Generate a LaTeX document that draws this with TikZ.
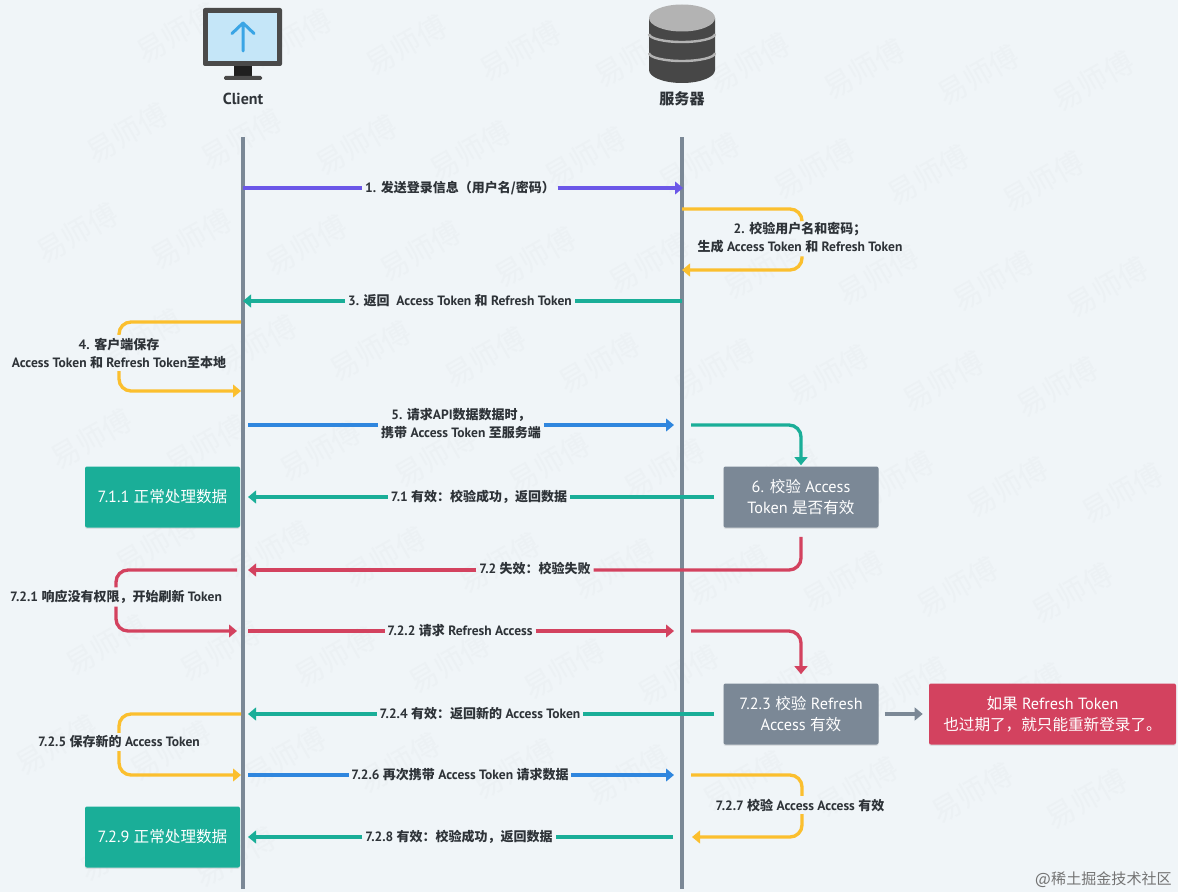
\documentclass[tikz,border=0pt]{standalone}
\usepackage{fontspec}
\usetikzlibrary{arrows.meta,shadows,calc}
\setmainfont{PT Sans}[Scale=1.04]
\newfontfamily\cjk{Noto Sans CJK SC}
\newcommand\zh[1]{{\cjk #1}}
\definecolor{bgc}{HTML}{F0F5F8}
\definecolor{wmc}{HTML}{ECF1F4}
\definecolor{pur}{HTML}{6B57E8}
\definecolor{gold}{HTML}{FBBF2E}
\definecolor{teal2}{HTML}{1AAE98}
\definecolor{blu}{HTML}{2F86DE}
\definecolor{rd}{HTML}{D3425F}
\definecolor{gry}{HTML}{7B8896}
\definecolor{txt}{HTML}{2E3338}
\definecolor{scr}{HTML}{C5E6F8}
\definecolor{arw}{HTML}{3AA5E5}
\definecolor{mon}{HTML}{4A4A4A}
\definecolor{stand}{HTML}{1F1F1F}
\definecolor{dbd}{HTML}{474747}
\definecolor{dbl}{HTML}{B3B3B3}
\tikzset{
  x=.75pt,y=-.75pt,
  conn/.style={line width=2.5pt,rounded corners=9pt},
  tip/.style={-{Triangle[length=6pt,width=9.5pt]}},
  lbl/.style={font=\fontsize{9.75}{13.5}\selectfont\bfseries,text=txt,align=center,inner xsep=2pt,inner ysep=2pt},
  box/.style={font=\fontsize{11.7}{15.5}\selectfont,text=white,align=center,rounded corners=1.5pt,minimum height=45.75pt,minimum width=116.25pt,inner sep=0pt,
     drop shadow={shadow xshift=0pt,shadow yshift=-1pt,opacity=.18}},
  wm/.style={font=\fontsize{22}{22}\selectfont\cjk,text=wmc,rotate=30,inner sep=0pt},
}
\begin{document}
\begin{tikzpicture}
\useasboundingbox (0,0) rectangle (1178,892);
\fill[bgc] (0,0) rectangle (1178,892);
% watermark
\foreach \i in {-3,...,11}{
 \foreach \j in {-1,...,9}{
  \pgfmathsetmacro\wx{177+\i*114.5-\j*50}
  \pgfmathsetmacro\wy{33+\i*6+\j*100}
  \pgfmathtruncatemacro\inside{(\wx>45)&&(\wx<1133)&&(\wy>30)&&(\wy<862)?1:0}
  \ifnum\inside=1
   \node[wm] (wm\i x\j) at (\wx,\wy) {易师傅};
  \fi
 }
}
% lifelines
\coordinate (t1) at (243,137); \coordinate (b1) at (243,889);
\coordinate (t2) at (682,137); \coordinate (b2) at (682,889);
\draw[gry,line width=2.5pt] (t1)--(b1);
\draw[gry,line width=2.5pt] (t2)--(b2);
% client icon
\fill[mon,rounded corners=1.5pt] (203,8) rectangle (282,66);
\fill[stand] (234,66) rectangle (252,76);
\fill[mon,rounded corners=1pt] (224,76) rectangle (262,80);
\fill[scr] (208,13) rectangle (277,61);
\draw[line width=2.25pt,arw,line cap=round,line join=round] (243,51)--(243,23) (232,33.5)--(243,23)--(254,33.5);
% db icon
\fill[dbd] (649,18) -- (649,70) arc[start angle=180,end angle=360,x radius=33,y radius=-13] -- (715,18) -- cycle;
\fill[dbl] (682,18) ellipse[x radius=33,y radius=13.5];
\draw[dbl,line width=1.8pt] (649,34) arc[start angle=180,end angle=360,x radius=33,y radius=-8];
\draw[dbl,line width=1.8pt] (649,53) arc[start angle=180,end angle=360,x radius=33,y radius=-8];
% heads
\node[lbl,font=\fontsize{11.5}{14}\selectfont\bfseries] (client) at (243,99) {Client};
\node[lbl,font=\fontsize{11.3}{14}\selectfont\bfseries] (srv) at (682,99) {\zh{服务器}};
% boxes
\node[box,fill=gry] (b6) at (801,497) {6. \zh{校验} Access\\Token \zh{是否有效}};
\node[box,fill=teal2] (b711) at (162.5,497) {7.1.1 \zh{正常处理数据}};
\node[box,fill=gry] (b723) at (801,714) {7.2.3 \zh{校验} Refresh\\Access \zh{有效}};
\node[box,fill=rd,minimum width=185.25pt] (bred) at (1052.5,714) {\zh{如果} Refresh Token\\\zh{也过期了，就只能重新登录了。}};
\node[box,fill=teal2] (b729) at (162.5,837) {7.2.9 \zh{正常处理数据}};
% 1
\coordinate (a1) at (243,188); \coordinate (z1) at (683,188);
\node[lbl] (l1) at (460,188) {1. \zh{发送登录信息（用户名/密码）}};
\draw[conn,pur] (a1)--(a1-|l1.west);
\draw[conn,pur,tip] (z1-|l1.east)--(z1);
% 2
\coordinate (a2) at (682,209); \coordinate (m2) at (802,240); \coordinate (z2) at (682,270);
\node[lbl] (l2) at (800,238) {2. \zh{校验用户名和密码；}\\\zh{生成} Access Token \zh{和} Refresh Token};
\draw[conn,gold] (a2)-|(m2|-l2.north);
\draw[conn,gold,tip] (m2|-l2.south)|-(z2);
% 3
\coordinate (a3) at (682,301); \coordinate (z3) at (243,301);
\node[lbl] (l3) at (460,301) {3. \zh{返回}\enspace Access Token \zh{和} Refresh Token};
\draw[conn,teal2] (a3)--(a3-|l3.east);
\draw[conn,teal2,tip] (z3-|l3.west)--(z3);
% 4
\coordinate (a4) at (241,322); \coordinate (m4) at (119,350); \coordinate (z4) at (241,391);
\node[lbl] (l4) at (119,353) {4. \zh{客户端保存}\\Access Token \zh{和} Refresh Token\zh{至本地}};
\draw[conn,gold] (a4)-|(m4|-l4.north);
\draw[conn,gold,tip] (m4|-l4.south)|-(z4);
% 5
\coordinate (a5) at (248,425); \coordinate (z5) at (674,425);
\node[lbl] (l5) at (461,424) {5. \zh{请求}API\zh{数据数据时，}\\\zh{携带} Access Token \zh{至服务端}};
\draw[conn,blu] (a5)--(a5-|l5.west);
\draw[conn,blu,tip] (z5-|l5.east)--(z5);
% 6 link
\coordinate (a6) at (691,425);
\draw[conn,teal2,tip] (a6)-|($(b6.north)+(0,-1)$);
% 7.1
\coordinate (z71) at (248,497);
\node[lbl] (l71) at (479,497) {7.1 \zh{有效：校验成功，返回数据}};
\draw[conn,teal2] ($(b6.west)+(-9,0)$)--(z71-|l71.east);
\draw[conn,teal2,tip] (z71-|l71.west)--(z71);
% 7.2
\coordinate (z72) at (248,570);
\node[lbl] (l72) at (535,569) {7.2 \zh{失效：校验失败}};
\draw[conn,rd] ($(b6.south)+(0,9)$)|-(z72-|l72.east);
\draw[conn,rd,tip] (z72-|l72.west)--(z72);
% 7.2.1
\coordinate (a721) at (237,570); \coordinate (m721) at (116,600); \coordinate (z721) at (237,631);
\node[lbl] (l721) at (116,597) {7.2.1 \zh{响应没有权限，开始刷新} Token};
\draw[conn,rd] (a721)-|(m721|-l721.north);
\draw[conn,rd,tip] (m721|-l721.south)|-(z721);
% 7.2.2
\coordinate (a722) at (248,631); \coordinate (z722) at (674,631);
\node[lbl] (l722) at (460,631) {7.2.2 \zh{请求} Refresh Access};
\draw[conn,rd] (a722)--(a722-|l722.west);
\draw[conn,rd,tip] (z722-|l722.east)--(z722);
\coordinate (a723) at (691,631);
\draw[conn,rd,tip] (a723)-|($(b723.north)+(0,-9)$);
% 7.2.3 to red
\draw[line width=2.5pt,gry,tip] ($(b723.east)+(6,0)$)--($(bred.west)+(-6,0)$);
% 7.2.4
\coordinate (z724) at (248,714);
\node[lbl] (l724) at (480,714) {7.2.4 \zh{有效：返回新的} Access Token};
\draw[conn,teal2] ($(b723.west)+(-9,0)$)--(z724-|l724.east);
\draw[conn,teal2,tip] (z724-|l724.west)--(z724);
% 7.2.5
\coordinate (a725) at (241,714); \coordinate (m725) at (119,745); \coordinate (z725) at (241,775);
\node[lbl] (l725) at (119,742) {7.2.5 \zh{保存新的} Access Token};
\draw[conn,gold] (a725)-|(m725|-l725.north);
\draw[conn,gold,tip] (m725|-l725.south)|-(z725);
% 7.2.6
\coordinate (a726) at (248,775); \coordinate (z726) at (674,775);
\node[lbl] (l726) at (460,775) {7.2.6 \zh{再次携带} Access Token \zh{请求数据}};
\draw[conn,blu] (a726)--(a726-|l726.west);
\draw[conn,blu,tip] (z726-|l726.east)--(z726);
% 7.2.7
\coordinate (a727) at (691,775); \coordinate (m727) at (802,805); \coordinate (z727) at (692,837);
\node[lbl] (l727) at (800,805) {7.2.7 \zh{校验} Access Access \zh{有效}};
\draw[conn,gold] (a727)-|(m727|-l727.north);
\draw[conn,gold,tip] (m727|-l727.south)|-(z727);
% 7.2.8
\coordinate (a728) at (673,837); \coordinate (z728) at (248,837);
\node[lbl] (l728) at (459,837) {7.2.8 \zh{有效：校验成功，返回数据}};
\draw[conn,teal2] (a728)--(a728-|l728.east);
\draw[conn,teal2,tip] (z728-|l728.west)--(z728);
% credit
\node[anchor=east,inner sep=0pt,text=black!55,font=\fontsize{11.3}{13}\selectfont] (credit) at (1172,880) {@\zh{稀土掘金技术社区}};
\end{tikzpicture}
\end{document}
